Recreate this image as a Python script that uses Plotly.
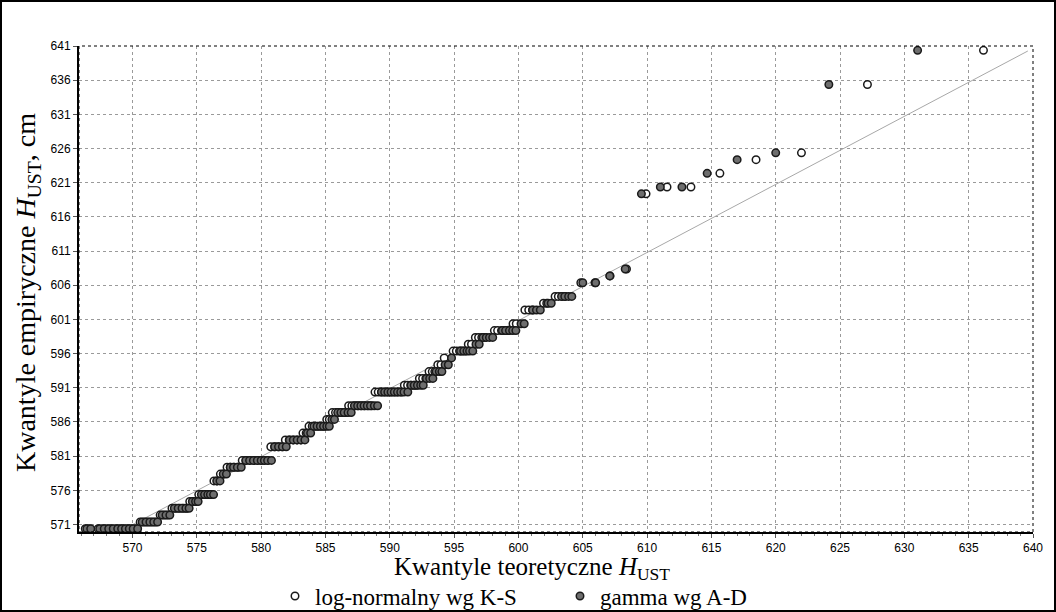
import plotly.graph_objects as go

# ---- data ----
# empirical sample levels (cm); every level is shared by both series
levels = [570, 571, 572, 573, 574, 575, 577, 578, 579, 580,
          582, 583, 584, 585, 586, 587, 588, 590, 591, 592,
          593, 594, 595, 596, 597, 598, 599, 600, 602, 603,
          604, 606, 607, 608, 619, 620, 622, 624, 625, 635, 640]

# theoretical quantiles, gamma (A-D) — one list per empirical level
gamma_x = [
    [566.45, 566.75, 567.45, 567.8, 568.15, 568.5, 568.85, 569.15, 569.45, 569.75, 570.05, 570.4],
    [570.75, 571.05, 571.35, 571.65, 571.95],
    [572.3, 572.6, 572.9],
    [573.25, 573.55, 573.85, 574.15, 574.4],
    [574.65, 574.9, 575.1],
    [575.35, 575.6, 575.85, 576.05, 576.3],
    [576.55, 576.8],
    [577.05, 577.3],
    [577.6, 577.85, 578.15, 578.45],
    [578.8, 579.1, 579.4, 579.7, 580.0, 580.25, 580.5, 580.8],
    [581.05, 581.35, 581.65, 581.95],
    [582.2, 582.5, 582.8, 583.1, 583.4],
    [583.6, 583.85],
    [584.1, 584.35, 584.6, 584.85, 585.1, 585.3],
    [585.5, 585.7],
    [585.95, 586.2, 586.45, 586.75, 587.0],
    [587.25, 587.5, 587.75, 588.0, 588.25, 588.5, 588.8, 589.05],
    [589.35, 589.6, 589.85, 590.1, 590.35, 590.6, 590.85, 591.1, 591.4],
    [591.65, 591.9, 592.15, 592.4, 592.6],
    [592.85, 593.1, 593.35],
    [593.6, 593.85, 594.05],
    [594.3, 594.55],
    [594.8],
    [595.5, 595.75, 596.0, 596.2, 596.45],
    [596.7, 596.95],
    [597.25, 597.5, 597.75, 598.0],
    [598.75, 599.0, 599.3, 599.55, 599.8],
    [600.2, 600.45],
    [601.1, 601.4, 601.7],
    [602.3, 602.55],
    [603.35, 603.6, 603.9, 604.15],
    [605.0, 606.0],
    [607.1],
    [608.3],
    [609.56],
    [611.03, 612.71],
    [614.67],
    [617.0],
    [620.0],
    [624.13],
    [631.03],
]

# theoretical quantiles, log-normal (K-S) — one list per empirical level
lognorm_x = [
    [566.33, 566.63, 567.33, 567.68, 568.03, 568.38, 568.73, 569.03, 569.33, 569.63, 569.93, 570.28],
    [570.6, 570.9, 571.2, 571.5, 571.8],
    [572.15, 572.45, 572.75],
    [573.07, 573.37, 573.67, 573.97, 574.22],
    [574.45, 574.7, 574.9],
    [575.15, 575.4, 575.65, 575.85, 576.1],
    [576.33, 576.58],
    [576.83, 577.08],
    [577.35, 577.6, 577.9, 578.2],
    [578.53, 578.83, 579.13, 579.43, 579.73, 579.98, 580.23, 580.53],
    [580.75, 581.05, 581.35, 581.65],
    [581.88, 582.18, 582.48, 582.78, 583.08],
    [583.25, 583.5],
    [583.72, 583.97, 584.22, 584.47, 584.72, 584.92],
    [585.1, 585.3],
    [585.53, 585.78, 586.03, 586.33, 586.58],
    [586.8, 587.05, 587.3, 587.55, 587.8, 588.05, 588.35, 588.6],
    [588.85, 589.1, 589.35, 589.6, 589.85, 590.1, 590.35, 590.6, 590.9],
    [591.13, 591.38, 591.63, 591.88, 592.08],
    [592.3, 592.55, 592.8],
    [593.05, 593.3, 593.5],
    [593.73, 593.98],
    [594.23],
    [594.92, 595.17, 595.42, 595.62, 595.87],
    [596.1, 596.35],
    [596.65, 596.9, 597.15, 597.4],
    [598.13, 598.38, 598.68, 598.93, 599.18],
    [599.58, 599.83],
    [600.5, 600.8, 601.1],
    [601.95, 602.2],
    [602.85, 603.1, 603.4, 603.65],
    [604.85, 605.95],
    [607.12],
    [608.4],
    [609.92],
    [611.55, 613.41],
    [615.66],
    [618.47],
    [622.0],
    [627.13],
    [636.15],
]

# reference line (theoretical = empirical)
ref_x = [569.0, 639.6]
ref_y = [569.6, 639.9]

x_ticks = [570, 575, 580, 585, 590, 595, 600, 605, 610, 615, 620, 625, 630, 635, 640]
y_tick_vals = [570.63, 575.63, 580.63, 585.63, 590.63, 595.63, 600.63, 605.63,
               610.63, 615.63, 620.63, 625.63, 630.63, 635.63, 640.63]
y_tick_text = ["571", "576", "581", "586", "591", "596", "601", "606",
               "611", "616", "621", "626", "631", "636", "641"]

series_names = ["log-normalny wg K-S", "gamma wg A-D"]
x_title = "Kwantyle teoretyczne <i>H</i><sub>UST</sub>"
y_title = "Kwantyle empiryczne <i>H</i><sub>UST</sub>, cm"

# ---- build ----
def flatten(groups):
    xs, ys = [], []
    for lvl, g in zip(levels, groups):
        for v in g:
            xs.append(v)
            ys.append(lvl)
    return xs, ys

lx, ly = flatten(lognorm_x)
gx, gy = flatten(gamma_x)

SERIF = "Liberation Serif, Times New Roman, serif"
SANS = "Liberation Sans, Arial, sans-serif"

fig = go.Figure()
fig.add_trace(go.Scatter(x=ref_x, y=ref_y, mode="lines",
                         line=dict(color="#a8a8a8", width=1),
                         showlegend=False, hoverinfo="skip"))
fig.add_trace(go.Scatter(x=lx, y=ly, mode="markers", name=series_names[0],
                         marker=dict(symbol="circle", size=7.5, color="white",
                                     line=dict(color="#1a1a1a", width=1.5)),
                         legend="legend"))
fig.add_trace(go.Scatter(x=gx, y=gy, mode="markers", name=series_names[1],
                         marker=dict(symbol="circle", size=7.5, color="#6e6e6e",
                                     line=dict(color="#1a1a1a", width=1.5)),
                         legend="legend2"))

W, H = 1056, 612
L, R, T, B = 79, 23, 46, 80
pw, ph = W - L - R, H - T - B

def px_to_paper_x(px):
    return (px - L) / pw

def py_to_paper_y(py):
    return (T + ph - py) / ph

grid = dict(showgrid=True, gridcolor="#9a9a9a", gridwidth=1, griddash="3px,3px")

fig.update_layout(
    width=W, height=H,
    margin=dict(l=L, r=R, t=T, b=B, autoexpand=False),
    paper_bgcolor="white", plot_bgcolor="white",
    font=dict(family=SANS, color="black", size=12),
    xaxis=dict(range=[565.84, 640.0], tickmode="array", tickvals=x_ticks,
               ticks="outside", ticklen=4, tickcolor="#555", tickwidth=1,
               minor=dict(dtick=1, tick0=570, ticks="outside", ticklen=2, tickcolor="#777", showgrid=False),
               showline=True, linecolor="black", linewidth=2, zeroline=False,
               tickfont=dict(family=SANS, size=12, color="black"),
               automargin=False, **grid),
    yaxis=dict(range=[569.53, 640.63], tickmode="array", tickvals=y_tick_vals, ticktext=y_tick_text,
               ticks="outside", ticklen=4, tickcolor="#555", tickwidth=1,
               showline=True, linecolor="black", linewidth=2, zeroline=False,
               tickfont=dict(family=SANS, size=12, color="black"),
               automargin=False, **grid),
    legend=dict(orientation="h", xref="container", yref="container",
                x=275 / W, xanchor="left", y=16 / H, yanchor="middle",
                font=dict(family=SERIF, size=23, color="black"),
                bgcolor="rgba(0,0,0,0)", borderwidth=0),
    legend2=dict(orientation="h", xref="container", yref="container",
                 x=560 / W, xanchor="left", y=16 / H, yanchor="middle",
                 font=dict(family=SERIF, size=23, color="black"),
                 bgcolor="rgba(0,0,0,0)", borderwidth=0),
    showlegend=True,
)

# axis titles
fig.add_annotation(text=x_title, xref="paper", yref="paper",
                   x=px_to_paper_x(532), y=py_to_paper_y(568),
                   xanchor="center", yanchor="middle", showarrow=False,
                   font=dict(family=SERIF, size=25, color="black"))
fig.add_annotation(text=y_title, xref="paper", yref="paper",
                   x=px_to_paper_x(27), y=py_to_paper_y(293),
                   xanchor="center", yanchor="middle", showarrow=False, textangle=-90,
                   font=dict(family=SERIF, size=28, color="black"))

# dotted frame on top/right of plot area, and outer figure border
fig.add_shape(type="rect", xref="paper", yref="paper", x0=0, y0=0, x1=1, y1=1,
              line=dict(color="black", width=1, dash="dot"), layer="above")
fig.add_shape(type="rect", xref="paper", yref="paper",
              x0=px_to_paper_x(1), x1=px_to_paper_x(W - 1),
              y0=py_to_paper_y(H - 1), y1=py_to_paper_y(1),
              line=dict(color="black", width=2), layer="above")

fig.write_html("out.html", config={"displayModeBar": False},
               post_script="document.body.style.margin='0';document.body.style.overflow='hidden';")
